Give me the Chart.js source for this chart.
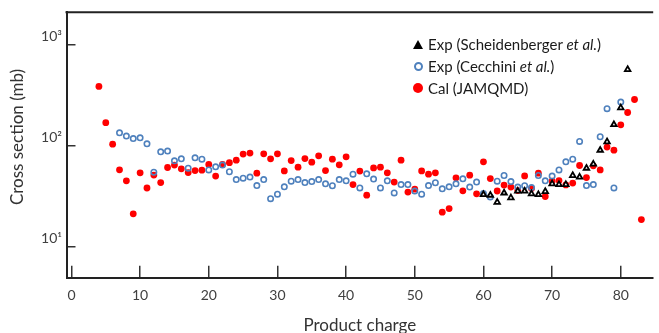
<!DOCTYPE html>
<html>
<head>
<meta charset="utf-8">
<script src="https://cdn.jsdelivr.net/npm/chart.js@4.4.1/dist/chart.umd.min.js"></script>
<style>
  html, body { margin: 0; padding: 0; background: #fff; overflow: hidden; }
  #wrap { position: relative; width: 659px; height: 333px; }
  #legend { position: absolute; left: 413px; top: 33px; font-family: Lato, sans-serif; font-size: 15px; color: #1a1a1a; }
  #legend .row { height: 22px; line-height: 22px; white-space: nowrap; display: flex; align-items: center; }
  #legend .mark { width: 10px; height: 10px; margin-right: 5px; display: flex; align-items: center; justify-content: center; }
  .tri { width: 0; height: 0; border-left: 5px solid transparent; border-right: 5px solid transparent; border-bottom: 9px solid #000; }
  .ring { width: 9px; height: 9px; box-sizing: border-box; border: 2px solid #4f81bd; border-radius: 50%; }
  .dot { width: 10px; height: 10px; border-radius: 50%; background: #ff0000; }
</style>
</head>
<body>
<div id="wrap">
  <canvas id="xsChart" width="659" height="333"></canvas>
  <div id="legend"></div>
</div>
<script>
// Scheidenberger et al. measurements
var schCharge = [60, 61, 62, 63, 64, 65, 66, 67, 68, 69, 70, 71, 72, 73, 74, 75, 76, 77, 78, 79, 80, 81];
var schXs = [32.7, 32.3, 27.5, 34, 30.4, 35.4, 35.4, 33.3, 32.7, 35.1, 41.8, 41.1, 41.1, 50.5, 48.7, 59.7, 65.5, 90, 109, 161, 236, 565];

// Cecchini et al. measurements
var cecCharge = [7, 8, 9, 10, 11, 12, 13, 14, 15, 16, 17, 18, 19, 20, 21, 22, 23, 24, 25, 26,
  27, 28, 29, 30, 31, 32, 33, 34, 35, 36, 37, 38, 39, 40, 41, 42, 43, 44, 45, 46,
  47, 48, 49, 50, 51, 52, 53, 54, 55, 56, 57, 58, 59, 60, 61, 62, 63, 64, 65, 66,
  67, 68, 69, 70, 71, 72, 73, 74, 75, 76, 77, 78, 79, 80];
var cecXs = [133.6, 124, 117, 119, 104, 54.5, 86.6, 88, 70.6, 73.9, 59.7, 75.5, 73.3, 57.4, 61.5, 64, 55, 46, 47.5, 48.7,
  40.2, 46, 29.8, 33, 39, 44.4, 46, 43, 44, 46, 41.8, 40, 46, 44.7, 52.1, 38.1, 52.5, 46.6, 38.1, 44.7,
  34, 41.1, 41.1, 35.4, 33, 40.2, 42.8, 37.3, 39, 41.8, 46.8, 38.8, 43.5, 33.5, 31, 44.4, 50.5, 44, 38.8, 40,
  38.4, 50.5, 44.7, 49.8, 57.4, 69, 73.3, 109.6, 40.2, 41.1, 122, 231, 38.1, 269];

// JAMQMD calculation
var calCharge = [4, 5, 6, 7, 8, 9, 10, 11, 12, 13, 14, 15, 16, 17, 18, 19, 20, 21, 22, 23,
  24, 25, 26, 27, 28, 29, 30, 31, 32, 33, 34, 35, 36, 37, 38, 39, 40, 41, 42, 43,
  44, 45, 46, 47, 48, 49, 50, 51, 52, 53, 54, 55, 56, 57, 58, 59, 60, 61, 62, 63,
  64, 65, 66, 67, 68, 69, 70, 71, 72, 73, 74, 75, 76, 77, 78, 79, 80, 81, 82, 83];
var calXs = [384, 168, 103, 57.5, 44.7, 21.1, 53.7, 38, 51, 43, 60.6, 64, 58.8, 54, 56.5, 57, 64.9, 49.8, 65, 67.6,
  71.6, 82.2, 84.1, 53.3, 82.8, 73.9, 82.8, 56, 71, 61, 74.3, 68.4, 79, 56.5, 73.3, 64.4, 77.3, 41.1, 55.8, 32.3,
  60, 61, 53.7, 43.5, 71.6, 34.6, 37, 56, 52.1, 53.7, 21.9, 23.8, 47.9, 35.6, 50.9, 33.3, 69, 47.1, 35.5, 40.6,
  38.8, 35.8, 50, 37.5, 53.3, 31.3, 44.4, 45, 40.8, 42.5, 63.4, 48.2, 63, 57.4, 96.4, 90, 160, 212, 285, 18.5];

var seriesNames = ['Exp (Scheidenberger et al.)', 'Exp (Cecchini et al.)', 'Cal (JAMQMD)'];
var xTicks = [0, 10, 20, 30, 40, 50, 60, 70, 80];
var yTicks = [10, 100, 1000];
var yTickLabels = ['10¹', '10²', '10³'];

function toPoints(xs, ys) {
  return xs.map(function(x, i) {
    return { x: x, y: ys[i] };
  });
}

var axisFont = { family: 'Lato', size: 14 };
var titleFont = { family: 'Lato', size: 17 };

// top edge of the plot box (no right edge, the plot runs off the side)
var framePlugin = {
  id: 'frame',
  afterDraw: function(chart) {
    var ctx = chart.ctx, area = chart.chartArea;
    ctx.save();
    ctx.strokeStyle = '#222';
    ctx.lineWidth = 2;
    ctx.beginPath();
    ctx.moveTo(area.left - 1, area.top);
    ctx.lineTo(area.right, area.top);
    ctx.stroke();

    // y axis title, a little above the middle of the axis
    ctx.fillStyle = '#333';
    ctx.font = '17px Lato';
    ctx.textAlign = 'center';
    ctx.textBaseline = 'middle';
    ctx.translate(18, 137);
    ctx.rotate(-Math.PI / 2);
    ctx.fillText('Cross section (mb)', 0, 0);
    ctx.restore();
  }
};

var ctx = document.getElementById('xsChart').getContext('2d');
var chart = new Chart(ctx, {
  type: 'scatter',
  data: {
    datasets: [{
      label: seriesNames[0],
      data: toPoints(schCharge, schXs),
      pointStyle: 'triangle',
      pointRadius: 3.2,
      borderWidth: 1.8,
      borderColor: '#000',
      backgroundColor: '#fff',
      order: 0
    }, {
      label: seriesNames[1],
      data: toPoints(cecCharge, cecXs),
      pointStyle: 'circle',
      pointRadius: 2.7,
      borderWidth: 1.6,
      borderColor: '#4f81bd',
      backgroundColor: 'rgba(255,255,255,0)',
      order: 1
    }, {
      label: seriesNames[2],
      data: toPoints(calCharge, calXs),
      pointStyle: 'circle',
      pointRadius: 3.4,
      borderWidth: 0,
      backgroundColor: '#ff0000',
      order: 2
    }]
  },
  options: {
    responsive: false,
    animation: false,
    events: [],
    layout: { padding: { top: 12.3, right: 0, left: 0, bottom: 0 } },
    plugins: {
      legend: { display: false },
      tooltip: { enabled: false }
    },
    scales: {
      x: {
        type: 'linear',
        min: -0.72,
        max: 84.72,
        afterBuildTicks: function(scale) {
          scale.ticks = xTicks.map(function(v) { return { value: v }; });
        },
        afterFit: function(scale) {
          scale.height = 55.3;
          scale.paddingLeft = 0;
          scale.paddingRight = 0;
        },
        grid: { drawOnChartArea: false, tickLength: -12, color: '#333', lineWidth: 1.5 },
        border: { color: '#222', width: 2 },
        ticks: { font: axisFont, color: '#404040', padding: 21, maxRotation: 0, autoSkip: false },
        title: {
          display: true,
          text: 'Product charge',
          font: titleFont,
          color: '#333',
          padding: { top: 0, bottom: -3.2 }
        }
      },
      y: {
        type: 'logarithmic',
        min: 4.93,
        max: 2075,
        afterBuildTicks: function(scale) {
          scale.ticks = yTicks.map(function(v) { return { value: v }; });
        },
        afterFit: function(scale) {
          scale.width = 66.5;
          scale.paddingTop = 0;
          scale.paddingBottom = 0;
        },
        grid: { drawOnChartArea: false, tickLength: -9, color: '#333', lineWidth: 1.5 },
        border: { color: '#222', width: 2 },
        ticks: {
          font: axisFont,
          color: '#404040',
          padding: 13.5,
          labelOffset: -8,
          autoSkip: false,
          callback: function(value) {
            var i = yTicks.indexOf(value);
            return i >= 0 ? yTickLabels[i] : '';
          }
        }
      }
    }
  },
  plugins: [framePlugin]
});

// legend with the "et al." in italics
var markClass = { triangle: 'tri', circle: null };
var legendEl = document.getElementById('legend');
chart.data.datasets.forEach(function(ds) {
  var cls = ds.pointStyle === 'triangle' ? 'tri' : (ds.borderWidth > 0 ? 'ring' : 'dot');
  var text = ds.label.replace('et al.', '<i>et al.</i>');
  legendEl.innerHTML += '<div class="row"><span class="mark"><span class="' + cls + '"></span></span><span>' + text + '</span></div>';
});
</script>
</body>
</html>
